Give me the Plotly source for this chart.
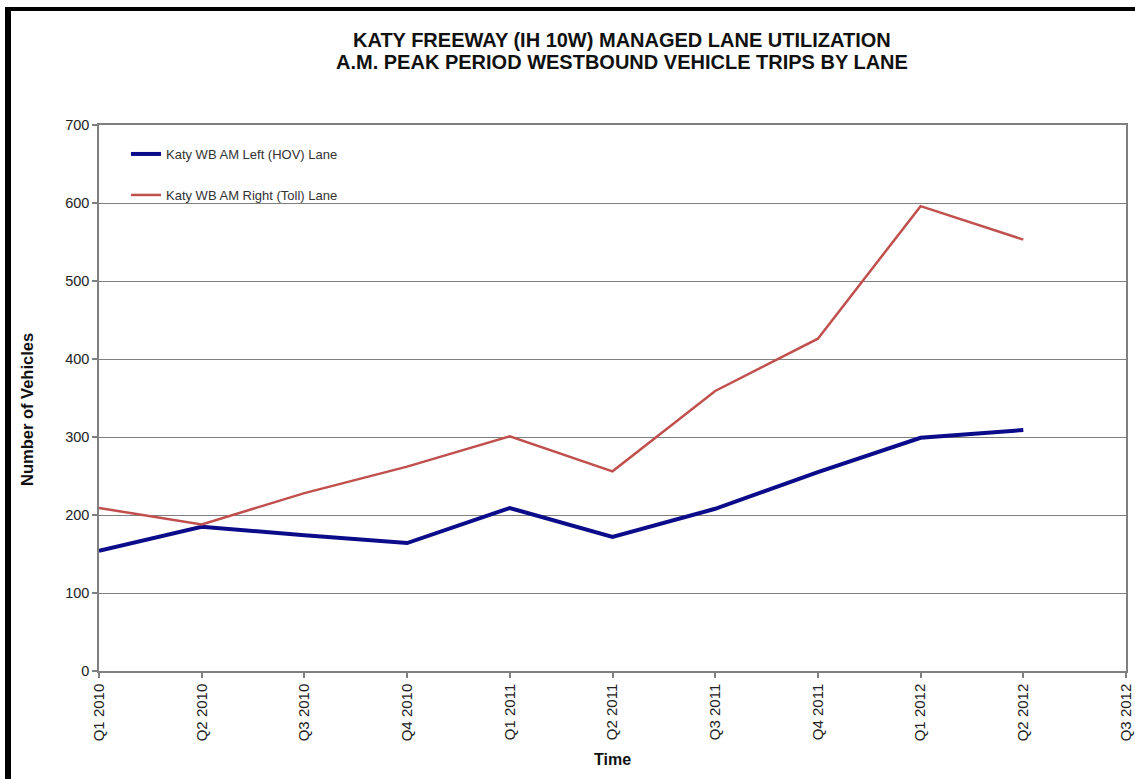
import plotly.graph_objects as go

quarters = ["Q1 2010", "Q2 2010", "Q3 2010", "Q4 2010", "Q1 2011", "Q2 2011",
            "Q3 2011", "Q4 2011", "Q1 2012", "Q2 2012", "Q3 2012"]
data_quarters = quarters[:10]
hov_lane = [154, 185, 174, 164, 209, 172, 208, 255, 299, 309]
toll_lane = [209, 188, 228, 262, 301, 256, 359, 426, 596, 553]
title_lines = ["KATY FREEWAY (IH 10W) MANAGED LANE UTILIZATION",
               "A.M. PEAK PERIOD WESTBOUND VEHICLE TRIPS BY LANE"]

FONT = "Liberation Sans, Arial, sans-serif"
W, H = 1135, 779
L, R, T, B = 99, 9, 125, 108
pw, ph = W - L - R, H - T - B

def px(x):
    return (x - L) / pw

def py(y):
    return (H - B - y) / ph

fig = go.Figure()
fig.add_trace(go.Scatter(x=data_quarters, y=hov_lane, mode="lines",
                         name="Katy WB AM Left (HOV) Lane", showlegend=True,
                         line=dict(color="#0C0C8A", width=4), legend="legend"))
fig.add_trace(go.Scatter(x=data_quarters, y=toll_lane, mode="lines",
                         name="Katy WB AM Right (Toll) Lane", showlegend=True,
                         line=dict(color="#C0504D", width=2.5), legend="legend2"))

shapes = [
    # white area behind legend (covers gridline)
    dict(type="rect", xref="paper", yref="paper", x0=px(100), x1=px(372), y0=py(212), y1=py(127),
         fillcolor="white", line=dict(width=0), layer="between"),
    # black frame left and top
    dict(type="rect", xref="paper", yref="paper", x0=px(5), x1=px(11), y0=py(779), y1=py(7),
         fillcolor="black", line=dict(width=0), layer="above"),
    dict(type="rect", xref="paper", yref="paper", x0=px(5), x1=px(1135), y0=py(11), y1=py(7),
         fillcolor="black", line=dict(width=0), layer="above"),
]

legend_font = dict(size=13, color="#333333", family=FONT)

annotations = [dict(text="<b>Number of Vehicles</b>", xref="paper", yref="paper",
                    x=px(27), y=py(410), xanchor="center", yanchor="middle",
                    textangle=-90, showarrow=False,
                    font=dict(size=16.5, color="#111111", family=FONT))]
for line, ypos in zip(title_lines, [40, 62]):
    annotations.append(dict(text="<b>" + line + "</b>", xref="paper", yref="paper",
                            x=px(622), y=py(ypos), xanchor="center", yanchor="middle",
                            showarrow=False,
                            font=dict(size=20, color="#111111", family=FONT)))

fig.update_layout(
    width=W, height=H, showlegend=True,
    margin=dict(l=L, r=R, t=T, b=B, pad=0, autoexpand=False),
    paper_bgcolor="white", plot_bgcolor="white",
    font=dict(family=FONT, color="#222222"),
    shapes=shapes,
    annotations=annotations,
    legend=dict(x=px(126), y=py(154), xanchor="left", yanchor="middle",
                bgcolor="rgba(0,0,0,0)", font=legend_font,
                borderwidth=0, itemwidth=30),
    legend2=dict(x=px(126), y=py(195), xanchor="left", yanchor="middle",
                 bgcolor="rgba(0,0,0,0)", font=legend_font,
                 borderwidth=0, itemwidth=30),
    xaxis=dict(type="category", categoryorder="array", categoryarray=quarters,
               tickvals=quarters, ticktext=quarters, range=[0, 10],
               showgrid=False, zeroline=False,
               showline=True, linecolor="#7F7F7F", linewidth=1.5, mirror=True,
               ticks="outside", ticklen=5, tickcolor="#7F7F7F", tickwidth=1.5,
               tickangle=-90, tickfont=dict(size=15, color="#222222", family=FONT),
               title=dict(text="<b>Time</b>", font=dict(size=16, color="#111111", family=FONT), standoff=14)),
    yaxis=dict(range=[0, 700], dtick=100, tick0=0,
               showgrid=True, gridcolor="#7F7F7F", gridwidth=1.2, zeroline=False,
               showline=True, linecolor="#7F7F7F", linewidth=1.5, mirror=True,
               ticks="outside", ticklen=5, tickcolor="#7F7F7F", tickwidth=1.5,
               tickfont=dict(size=14.5, color="#222222", family=FONT)),
)

fig.write_html("out.html")
